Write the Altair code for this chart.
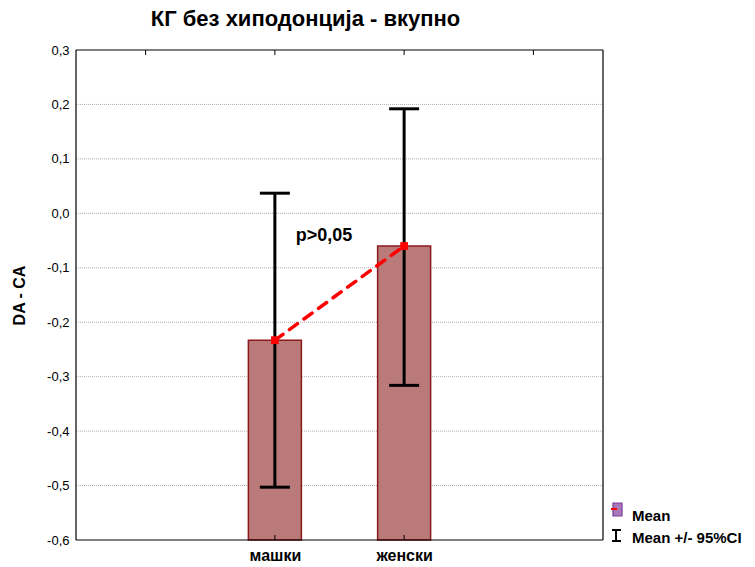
import altair as alt
import pandas as pd

# Group means of DA - CA with 95% confidence limits
groups = ["машки", "женски"]
positions = [1.5, 2.5]
means = [-0.233, -0.060]
ci_low = [-0.503, -0.316]
ci_high = [0.037, 0.192]

y_ticks = [0.2, 0.1, 0.0, -0.1, -0.2, -0.3, -0.4, -0.5]
y_labels = [0.3, 0.2, 0.1, 0.0, -0.1, -0.2, -0.3, -0.4, -0.5, -0.6]
top_ticks = [0.5, 1.5, 2.5, 3.5]

W, H = 527, 490

df = pd.DataFrame({"group": groups, "pos": positions, "mean": means,
                   "lo": ci_low, "hi": ci_high})
df_top = pd.DataFrame({"pos": top_ticks})
df_grid = pd.DataFrame({"v": y_ticks})

label_expr = "datum.value == 1.5 ? 'машки' : datum.value == 2.5 ? 'женски' : ''"
y_label_expr = "replace(replace(format(datum.value, '.1f'), '.', ','), '\u2212', '-')"

x = alt.X("pos:Q", scale=alt.Scale(domain=[0, 4], nice=False, zero=False),
          axis=alt.Axis(values=positions, labelExpr=label_expr, title=None,
                        grid=False, ticks=False, domain=False,
                        labelFont="Liberation Sans", labelFontWeight="bold",
                        labelFontSize=16, labelColor="#000", labelPadding=7))
y_scale = alt.Scale(domain=[-0.6, 0.3], nice=False, zero=False)
y = alt.Y("mean:Q", scale=y_scale,
          axis=alt.Axis(values=y_labels, labelExpr=y_label_expr,
                        title="DA - CA", titleFont="Liberation Sans",
                        titleFontSize=16, titleFontWeight="bold",
                        titlePadding=19, titleColor="#000",
                        labelFont="Liberation Sans", labelFontSize=13,
                        labelColor="#000", labelPadding=7,
                        ticks=False, domain=False, grid=False))

base = alt.Chart(df)

# dotted horizontal grid inside the frame
grid = alt.Chart(df_grid).mark_rule(color="#b0b0b0", strokeWidth=1,
                                    strokeDash=[1, 1]).encode(
    y=alt.Y("v:Q", scale=y_scale), x=alt.value(0), x2=alt.value(W))

bars = base.mark_bar(size=53, color="#bb7a7a", stroke="#8b1a1a",
                     strokeWidth=1.5, opacity=1).encode(x=x, y=y, y2=alt.Y2(datum=-0.6))

whisker = base.mark_rule(color="black", strokeWidth=3, opacity=1).encode(
    x="pos:Q", y=alt.Y("lo:Q", scale=y_scale), y2="hi:Q")
cap_hi = base.mark_tick(color="black", thickness=3, size=30, opacity=1,
                        orient="horizontal").encode(x="pos:Q",
                                                    y=alt.Y("hi:Q", scale=y_scale))
cap_lo = base.mark_tick(color="black", thickness=3, size=30, opacity=1,
                        orient="horizontal").encode(x="pos:Q",
                                                    y=alt.Y("lo:Q", scale=y_scale))

mean_line = base.mark_line(color="#ff0000", strokeWidth=3.5,
                           strokeDash=[10, 8], strokeCap="round").encode(
    x="pos:Q", y=alt.Y("mean:Q", scale=y_scale))
mean_pts = base.mark_square(color="#ff0000", size=60, opacity=1).encode(
    x="pos:Q", y=alt.Y("mean:Q", scale=y_scale))

p_label = alt.Chart(pd.DataFrame({"pos": [1.88], "v": [-0.042], "t": ["p>0,05"]})).mark_text(
    font="Liberation Sans", fontSize=18, fontWeight="bold", color="#000",
    align="center", baseline="middle").encode(
    x="pos:Q", y=alt.Y("v:Q", scale=y_scale), text="t:N")

one = pd.DataFrame({"a": [0]})

# black frame around the plot area
frame = [
    alt.Chart(one).mark_rule(color="black", strokeWidth=1.2).encode(
        x=alt.value(0), x2=alt.value(W), y=alt.value(0)),
    alt.Chart(one).mark_rule(color="black", strokeWidth=1.2).encode(
        x=alt.value(0), x2=alt.value(W), y=alt.value(H)),
    alt.Chart(one).mark_rule(color="black", strokeWidth=1.2).encode(
        x=alt.value(0), y=alt.value(0), y2=alt.value(H)),
    alt.Chart(one).mark_rule(color="black", strokeWidth=1.2).encode(
        x=alt.value(W), y=alt.value(0), y2=alt.value(H)),
]

# inward tick marks on the frame
bottom_ticks = base.mark_rule(color="black", strokeWidth=1).encode(
    x="pos:Q", y=alt.value(H), y2=alt.value(H - 5))
top_tick_marks = alt.Chart(df_top).mark_rule(color="black", strokeWidth=1).encode(
    x="pos:Q", y=alt.value(0), y2=alt.value(5))

# legend drawn beside the frame
swatch = alt.Chart(one).mark_rect(
    fill="#a878b8", stroke="#7a3a9a", strokeWidth=1.2, opacity=1).encode(
    x=alt.value(537), x2=alt.value(546), y=alt.value(453), y2=alt.value(466))
swatch_line = alt.Chart(one).mark_rule(
    color="#ff0000", strokeWidth=2).encode(
    x=alt.value(535), x2=alt.value(541), y=alt.value(459))
ci_sym_v = alt.Chart(one).mark_rule(color="black", strokeWidth=2).encode(
    x=alt.value(540), y=alt.value(479), y2=alt.value(492))
ci_sym_t = alt.Chart(one).mark_rule(color="black", strokeWidth=2).encode(
    x=alt.value(536), x2=alt.value(545), y=alt.value(480))
ci_sym_b = alt.Chart(one).mark_rule(color="black", strokeWidth=2).encode(
    x=alt.value(536), x2=alt.value(545), y=alt.value(491))
leg_text = alt.Chart(pd.DataFrame({"t": ["Mean", "Mean +/- 95%CI"],
                                   "yy": [466, 488]})).mark_text(
    font="Liberation Sans", fontSize=15, fontWeight="bold", color="#000",
    align="left", baseline="middle").encode(
    x=alt.value(556), y=alt.Y("yy:Q", scale=None), text="t:N")

chart = alt.layer(
    grid, bars, whisker, cap_hi, cap_lo, mean_line, mean_pts, p_label,
    *frame, bottom_ticks, top_tick_marks, swatch, swatch_line,
    ci_sym_v, ci_sym_t, ci_sym_b, leg_text
).properties(
    width=W, height=H,
    title=alt.TitleParams("КГ без хиподонција - вкупно", font="Liberation Sans",
                          fontSize=22, fontWeight="bold", color="#000",
                          anchor="middle", offset=13, dx=-34),
    autosize=alt.AutoSizeParams(type="none"),
    padding={"left": 76, "top": 50, "right": 152, "bottom": 27},
).configure(background="white").configure_view(strokeWidth=0)

chart.save("out.html", embed_options={"renderer": "svg", "actions": False})
